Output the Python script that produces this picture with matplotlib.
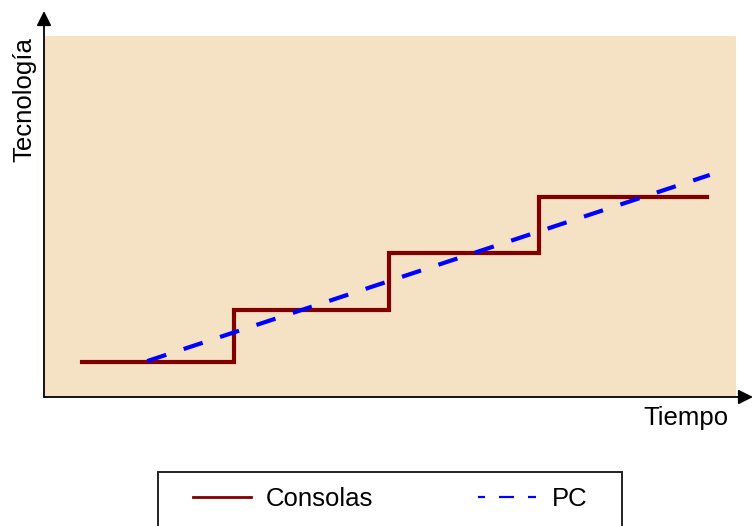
import matplotlib.pyplot as plt
from matplotlib.patches import Rectangle

# ---- data (arbitrary units: time 0..100, technology 0..100) ----
consolas_t = [5.4, 27.4, 27.4, 49.8, 49.8, 71.5, 71.5, 95.8]
consolas_v = [9.4, 9.4, 23.9, 23.9, 39.7, 39.7, 55.3, 55.3]

pc_t = [14.8, 96.2]
pc_v = [9.7, 61.4]

W, H = 753, 526
plt.rcParams['font.family'] = ['Liberation Sans', 'DejaVu Sans']

fig = plt.figure(figsize=(W / 100, H / 100), dpi=100)
ax = fig.add_axes([45 / W, 1 - 396 / H, (736 - 45) / W, (396 - 36) / H])
ax.set_facecolor('#F5E1C3')
ax.set_xlim(0, 100)
ax.set_ylim(0, 100)
for s in ax.spines.values():
    s.set_visible(False)
ax.set_xticks([])
ax.set_yticks([])

ax.plot(consolas_t, consolas_v, color='#800000', lw=3, solid_joinstyle='miter',
        label='Consolas')
ax.plot(pc_t, pc_v, color='#0000FF', lw=3, dashes=(4.8, 4.4), label='PC')

# axis arrows
ax0 = 44 / W
ay0 = 1 - 397 / H
ax.annotate('', xy=(ax0, 1 - 11 / H), xytext=(ax0, ay0), xycoords='figure fraction',
            arrowprops=dict(arrowstyle='-|>', color='black', lw=1.3,
                            mutation_scale=22, shrinkA=0, shrinkB=0))
ax.annotate('', xy=(1.0, ay0), xytext=(ax0, ay0), xycoords='figure fraction',
            arrowprops=dict(arrowstyle='-|>', color='black', lw=1.3,
                            mutation_scale=22, shrinkA=0, shrinkB=0))

fig.text(24 / W, 1 - 100 / H, 'Tecnología', rotation=90, fontsize=18.5,
         ha='center', va='center')
fig.text(729 / W, 1 - 418 / H, 'Tiempo', fontsize=18.5, ha='right', va='center')

# legend box (bottom edge runs off the figure)
fig.patches.append(Rectangle((158 / W, -10 / H), (622 - 158) / W, (526 + 10 - 472) / H,
                             transform=fig.transFigure, facecolor='white',
                             edgecolor='#222222', lw=1.4, zorder=1))

handles, labels = ax.get_legend_handles_labels()
leg = fig.legend(handles, labels, loc='center left', ncol=2, mode='expand',
                 bbox_to_anchor=(193 / W, 1 - 499 / H, (587 - 193) / W, 0),
                 fontsize=18.5, frameon=False, borderpad=0, borderaxespad=0,
                 handlelength=2.25, handletextpad=0.6)
leg.legend_handles[0].set_linewidth(2)
leg.legend_handles[1].set_linewidth(1.6)
leg.legend_handles[1].set_linestyle((3.6, (6.75, 6.3)))

fig.savefig('out.png', dpi=100)
